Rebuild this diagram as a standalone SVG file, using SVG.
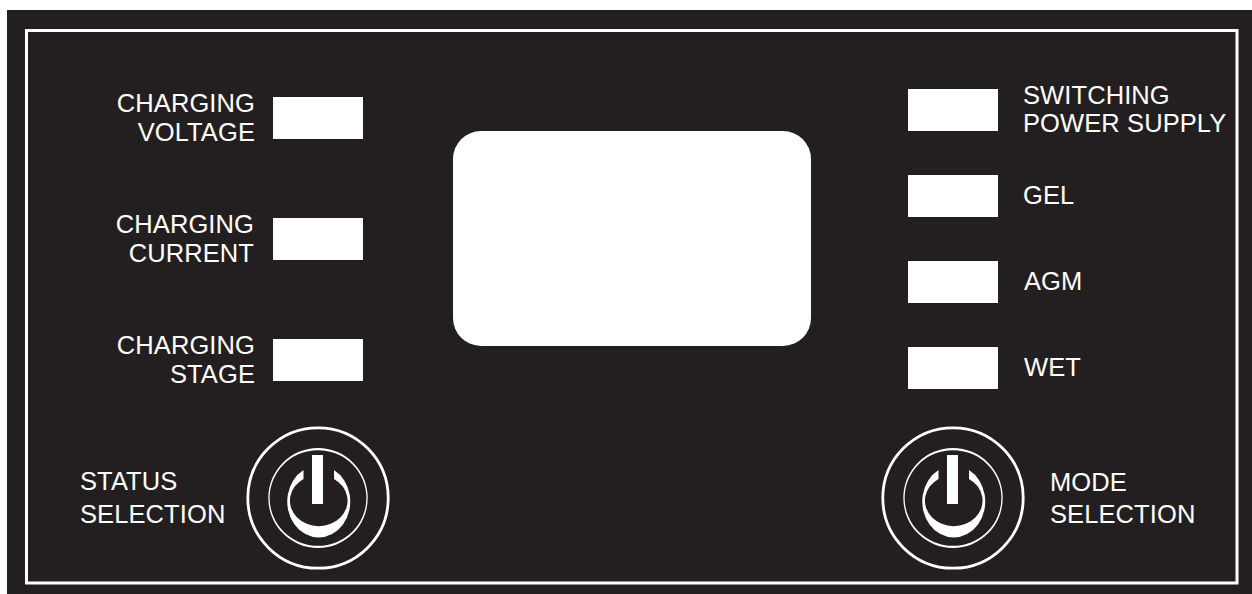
<svg xmlns="http://www.w3.org/2000/svg" width="1252" height="594" viewBox="0 0 1252 594">
<style>
.l{font-family:"Liberation Sans",Arial,sans-serif;font-size:25.500px;letter-spacing:.1px;fill:#fff}
.e{text-anchor:end}
.w{fill:#fff}
.r{fill:none;stroke:#fff}
</style>
<defs>
<g id="power">
<circle class="r" r="70.200" stroke-width="2.800"/>
<path class="w" fill-rule="evenodd" d="M-49.700 0A49.700 50 0 0 1 49.700 0A49.700 50 0 0 1-49.700 0ZM-48.400 0A48.400 47.800 0 0 0 48.400 0A48.400 47.800 0 0 0-48.400 0Z"/>
<path class="w" d="M-14.500-28A31.500 36 0 1 0 16-28V-19A28.800 25.500 0 1 1-14.500-19Z"/>
<rect class="w" x="-6" y="-43" width="11" height="49"/>
</g>
</defs>
<rect width="1252" height="594" fill="#fff"/>
<rect x="7" y="10" width="1245" height="584" fill="#231f20"/>
<path d="M26.500 30.500H1237V583H26.500Z" fill="none" stroke="#fff" stroke-width="3"/>
<g id="display"><rect class="w" x="453" y="131" width="358" height="215" rx="28"/></g>
<g id="charging-voltage"><rect class="w" x="273" y="97" width="90" height="42"/><text class="l e" x="255" y="112">CHARGING</text><text class="l e" x="255" y="141">VOLTAGE</text></g>
<g id="charging-current"><rect class="w" x="273" y="218" width="90" height="42"/><text class="l e" x="254" y="233">CHARGING</text><text class="l e" x="254" y="262">CURRENT</text></g>
<g id="charging-stage"><rect class="w" x="273" y="339" width="90" height="42"/><text class="l e" x="255" y="354">CHARGING</text><text class="l e" x="255" y="383">STAGE</text></g>
<g id="switching-power-supply"><rect class="w" x="908" y="89" width="90" height="42"/><text class="l" x="1023" y="104">SWITCHING</text><text class="l" x="1023" y="132">POWER SUPPLY</text></g>
<g id="gel"><rect class="w" x="908" y="175" width="90" height="42"/><text class="l" x="1023" y="204">GEL</text></g>
<g id="agm"><rect class="w" x="908" y="261" width="90" height="42"/><text class="l" x="1024" y="290">AGM</text></g>
<g id="wet"><rect class="w" x="908" y="347" width="90" height="42"/><text class="l" x="1024" y="376">WET</text></g>
<g id="status-selection"><use href="#power" x="318" y="498"/><text class="l" x="80" y="490">STATUS</text><text class="l" x="80" y="523">SELECTION</text></g>
<g id="mode-selection"><use href="#power" x="953" y="498"/><text class="l" x="1050" y="491">MODE</text><text class="l" x="1050" y="523">SELECTION</text></g>
<g id="connectors"/>
</svg>
